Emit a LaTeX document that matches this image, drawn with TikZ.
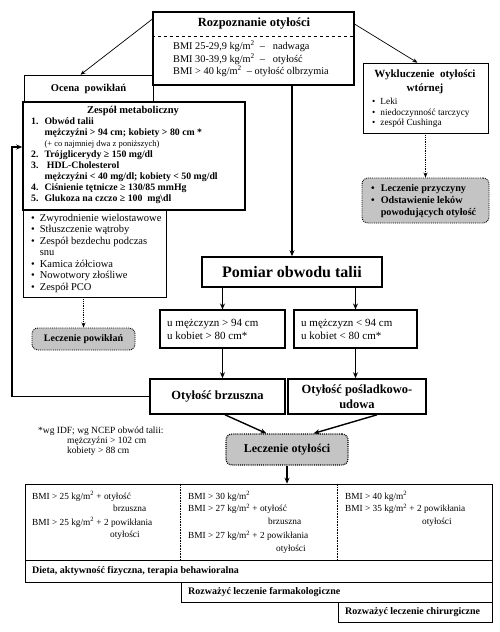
\documentclass[tikz,border=0pt]{standalone}
\usepackage{fontspec}
\setmainfont{Liberation Serif}
\usetikzlibrary{arrows.meta,fit,positioning}
\definecolor{shade}{HTML}{C4C4C4}
\newcommand{\kgm}{kg/m\textsuperscript{2}}
\newcommand{\fsz}[2]{\fontsize{#1}{#2}\selectfont}

\begin{document}
\begin{tikzpicture}[x=1pt, y=-1pt,
  frame/.style={draw, line width=0.6pt, inner sep=0pt},
  heavy/.style={draw, line width=1.6pt, inner sep=0pt},
  medium/.style={draw, line width=1.1pt, inner sep=0pt},
  pill/.style={draw, line width=0.9pt, densely dotted, fill=shade, rounded corners=6pt, inner sep=0pt},
  lbl/.style={inner sep=0pt, align=center, font=\bfseries\fsz{12.5}{15}},
  txt/.style={inner sep=0pt, align=left, font=\fsz{11}{13}},
  cell/.style={inner sep=0pt, align=left, font=\fsz{9.3}{12.5}},
  arr/.style={-{Stealth[length=6pt,width=5pt]}, line width=1.4pt},
  thin/.style={-{Stealth[length=5pt,width=4pt]}, line width=0.7pt},
  dots/.style={-{Stealth[length=5pt,width=4pt]}, line width=0.8pt, densely dotted}
]
  \useasboundingbox (0,0) rectangle (500,632);

  % Diagnosis
  \node[heavy, fit={(153,12) (354,85)}] (rozp) {};
  \node[lbl] (rozpT) at (254,24) {Rozpoznanie otyłości};
  \draw[dashed, line width=0.6pt] (rozp.west |- rozpT.south) ++(0,6) -- ++(201,0);
  \node[txt, font=\fsz{10.3}{12.5}, anchor=north west] (bmi) at (173,41) {BMI 25-29,9 \kgm\ \ --\ \ \ nadwaga\\
    BMI 30-39,9 \kgm\ \ --\ \ \ otyłość\\
    BMI > 40 \kgm\ \ -- otyłość olbrzymia};

  % Complications
  \node[frame, fit={(24,75) (153,102)}] (ocena) {};
  \node[lbl, font=\bfseries\fsz{10.5}{12}] (ocenaT) at (ocena.center) {Ocena\ \ powikłań};
  \node[heavy, fit={(23,102) (245,210)}] (zesp) {};
  \node[lbl, font=\bfseries\fsz{10.5}{12}] (zespT) at (133,111) {Zespół metaboliczny};
  \node[inner sep=0pt, anchor=north west, font=\bfseries\fsz{9.8}{11}] (zespL) at (31,117) {%
    \begin{tabular}{@{}l@{\hspace{6pt}}l@{}}
    1. & Obwód talii\\
       & mężczyźni > 94 cm; kobiety > 80 cm *\\
       & {\mdseries\fsz{8.5}{11}(+ co najmniej dwa z poniższych)}\\
    2. & Trójglicerydy ≥ 150 mg/dl\\
    3. & \ HDL-Cholesterol\\
       & mężczyźni < 40 mg/dl; kobiety < 50 mg/dl\\
    4. & Ciśnienie tętnicze ≥ 130/85 mmHg\\
    5. & Glukoza na czczo ≥ 100\ \ mg\textbackslash dl
    \end{tabular}};
  \node[frame, fit={(23,210) (166,297)}] (lista) {};
  \node[inner sep=0pt, anchor=north west, font=\fsz{10.5}{11.5}] (listaT) at (31,213) {%
    \begin{tabular}{@{}l@{\hspace{5pt}}l@{}}
    \textbullet & Zwyrodnienie wielostawowe\\
    \textbullet & Stłuszczenie wątroby\\
    \textbullet & Zespół bezdechu podczas\\
                & snu\\
    \textbullet & Kamica żółciowa\\
    \textbullet & Nowotwory złośliwe\\
    \textbullet & Zespół PCO
    \end{tabular}};
  \node[pill, fit={(32,328) (135,350)}] (lpow) {};
  \node[lbl, font=\bfseries\fsz{10}{12}] (lpowT) at (lpow.center) {Leczenie powikłań};

  % Secondary obesity
  \node[frame, fit={(363,63) (488,133)}] (wykl) {};
  \node[lbl, font=\bfseries\fsz{11}{14}] (wyklT) at (425,82) {Wykluczenie\ \ otyłości\\wtórnej};
  \node[inner sep=0pt, anchor=north west, font=\fsz{9.3}{10.5}] (wyklL) at (372,97) {%
    \begin{tabular}{@{}l@{\hspace{5pt}}l@{}}
    \textbullet & Leki\\
    \textbullet & niedoczynność tarczycy\\
    \textbullet & zespół Cushinga
    \end{tabular}};
  \node[pill, fit={(362,178) (489,223)}] (przy) {};
  \node[inner sep=0pt, anchor=north west, font=\bfseries\fsz{10.2}{12}] (przyL) at (371,183) {%
    \begin{tabular}{@{}l@{\hspace{6pt}}l@{}}
    \textbullet & Leczenie przyczyny\\
    \textbullet & Odstawienie leków\\
                & powodujących otyłość
    \end{tabular}};

  % Waist measurement
  \node[heavy, fit={(202,257) (382,287)}] (pomiar) {};
  \node[lbl, font=\bfseries\fsz{16}{18}] (pomiarT) at (pomiar.center) {Pomiar obwodu talii};
  \node[medium, fit={(160,310) (285,348)}] (mezL) {};
  \node[txt, anchor=north west] (mezLT) at (167,319) {u mężczyzn > 94 cm\\u kobiet > 80 cm*};
  \node[medium, fit={(294,310) (417,348)}] (mezR) {};
  \node[txt, anchor=north west] (mezRT) at (301,319) {u mężczyzn < 94 cm\\u kobiet < 80 cm*};
  \node[heavy, fit={(150,379) (285,414)}] (brz) {};
  \node[lbl] (brzT) at (brz.center) {Otyłość brzuszna};
  \node[heavy, fit={(288,379) (426,414)}] (posl) {};
  \node[lbl] (poslT) at (posl.center) {Otyłość pośladkowo-\\udowa};
  \node[pill, line width=1.2pt, fit={(226,434) (348,465)}] (lecz) {};
  \node[lbl, font=\bfseries\fsz{12}{14}] (leczT) at (lecz.center) {Leczenie otyłości};

  % Footnote
  \node[inner sep=0pt, anchor=north west, align=left, font=\fsz{9.5}{10}] (przyp) at (38,427)
    {*wg IDF; wg NCEP obwód talii:\\\hspace*{29pt}mężczyźni > 102 cm\\\hspace*{29pt}kobiety > 88 cm};

  % Treatment table
  \node[frame, fit={(25,484) (492,560)}] (kryt) {};
  \node[frame, fit={(25,560) (492,582)}] (dieta) {};
  \node[frame, fit={(181,582) (492,602)}] (farm) {};
  \node[frame, fit={(338,602) (492,622)}] (chir) {};
  \draw[densely dotted, line width=0.6pt] (kryt.north -| farm.west) -- (kryt.south -| farm.west);
  \draw[densely dotted, line width=0.6pt] (kryt.north -| chir.west) -- (kryt.south -| chir.west);
  \node[cell, anchor=north west] (k1) at (32,491) {BMI > 25 \kgm{} + otyłość\\
    \hspace*{81pt}brzuszna\\[1pt]BMI > 25 \kgm{} + 2 powikłania\\\hspace*{78pt}otyłości};
  \node[cell, anchor=north west] (k2) at (188,491) {BMI > 30 \kgm\\BMI > 27 \kgm{} + otyłość\\
    \hspace*{80pt}brzuszna\\[2pt]BMI > 27 \kgm{} + 2 powikłania\\\hspace*{88pt}otyłości};
  \node[cell, anchor=north west] (k3) at (345,491) {BMI > 40 \kgm\\BMI > 35 \kgm{} + 2 powikłania\\
    \hspace*{77pt}otyłości};
  \node[cell, font=\bfseries\fsz{10}{11}, anchor=mid west] (dietaT) at (32,571)
    {Dieta, aktywność fizyczna, terapia behawioralna};
  \node[cell, font=\bfseries\fsz{10}{11}, anchor=mid west] (farmT) at (188,592)
    {Rozważyć leczenie farmakologiczne};
  \node[cell, font=\bfseries\fsz{10}{11}, anchor=mid west] (chirT) at (345,612)
    {Rozważyć leczenie chirurgiczne};

  % Connections
  \draw[thin] ([yshift=-8pt]rozp.north west) -- ([xshift=-8pt]ocena.north);
  \draw[thin] ([yshift=-13pt]rozp.north east) -- ([xshift=-8pt]wykl.north);
  \draw[dots] (wykl.south) -- (przy.north);
  \draw[dots] (lpow.north |- lista.south) -- (lpow.north);
  \draw[arr] (pomiar.north |- rozp.south) -- (pomiar.north);
  \draw[arr] (pomiar.south -| mezL.north) -- (mezL.north);
  \draw[arr] (pomiar.south -| mezR.north) -- (mezR.north);
  \draw[arr] (mezL.south) -- (mezL.south |- brz.north);
  \draw[arr] (mezR.south) -- (mezR.south |- posl.north);
  \draw[arr] ([xshift=7.5pt]brz.south) -- ([xshift=41pt]lecz.north west);
  \draw[arr] ([xshift=20pt]posl.south) -- ([xshift=-35pt]lecz.north east);
  \draw[arr] (lecz.south) -- (lecz.south |- kryt.north);
  \coordinate (powrot) at (12,147);
  \draw[arr, line width=1.2pt] (brz.west) -| (powrot) -- (powrot -| zesp.west);
\end{tikzpicture}
\end{document}
